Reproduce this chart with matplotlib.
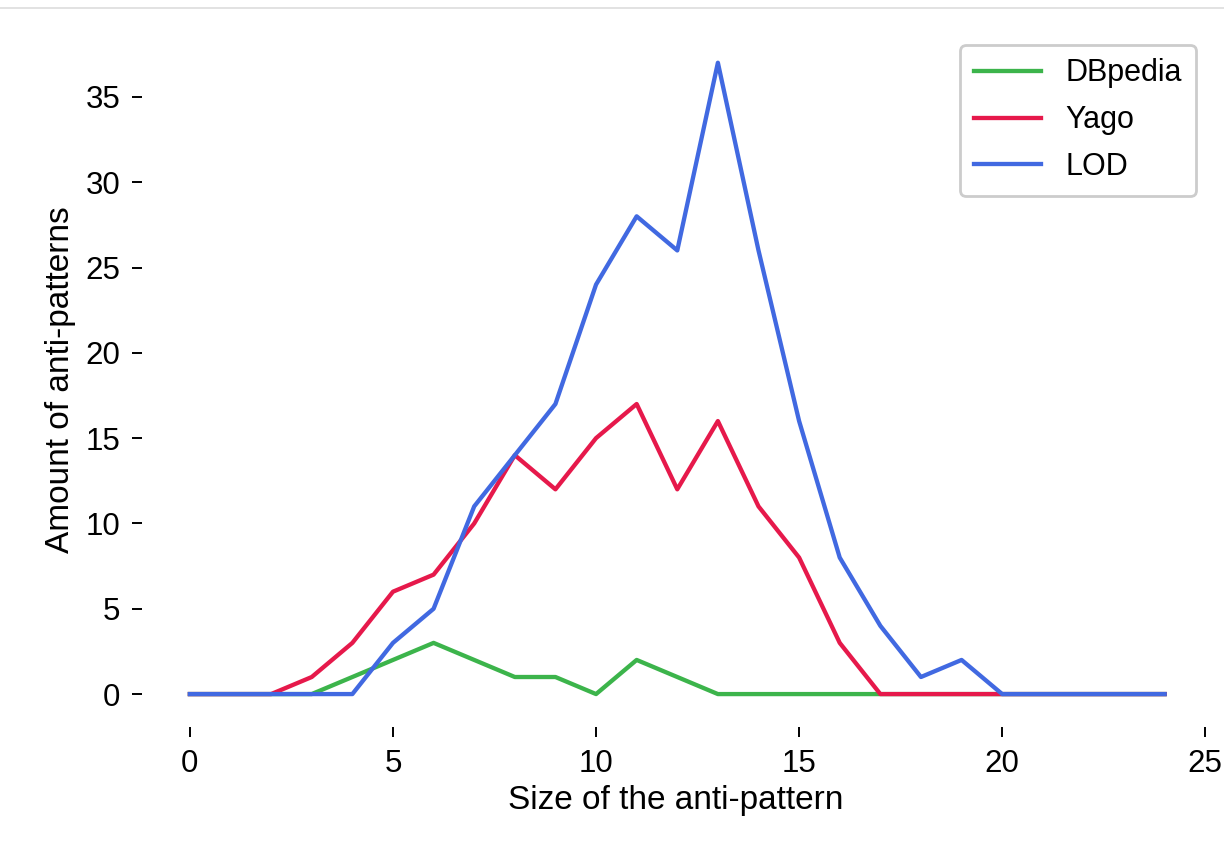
import numpy as np
import matplotlib
matplotlib.use("Agg")
import matplotlib.pyplot as plt
from matplotlib.lines import Line2D

# anti-pattern size vs. how many were found per dataset
sizes = list(range(0, 25))
dbpedia = [0, 0, 0, 0, 1, 2, 3, 2, 1, 1, 0, 2, 1, 0, 0, 0, 0, 0, 0, 0, 0, 0, 0, 0, 0]
yago = [0, 0, 0, 1, 3, 6, 7, 10, 14, 12, 15, 17, 12, 16, 11, 8, 3, 0, 0, 0, 0, 0, 0, 0, 0]
lod = [0, 0, 0, 0, 0, 3, 5, 11, 14, 17, 24, 28, 26, 37, 26, 16, 8, 4, 1, 2, 0, 0, 0, 0, 0]

x_ticks = [0, 5, 10, 15, 20, 25]
y_ticks = [0, 5, 10, 15, 20, 25, 30, 35]

plt.rcParams["font.family"] = ["Liberation Sans", "DejaVu Sans"]

fig = plt.figure(figsize=(12.24, 8.43), dpi=100)
ax = fig.add_axes([0.116, 0.1376, 0.872, 0.8244])

ax.plot(sizes, dbpedia, color="#3cb44b", lw=3.1, label="DBpedia")
ax.plot(sizes, yago, color="#e6194b", lw=3.1, label="Yago")
ax.plot(sizes, lod, color="#4169e1", lw=3.1, label="LOD")

ax.set_xlim(-1.18, 25.1)
ax.set_ylim(-1.93, 38.8)
ax.set_xticks(x_ticks)
ax.set_yticks(y_ticks)
for s in ax.spines.values():
    s.set_visible(False)
ax.tick_params(direction="out", length=7.5, width=1.4, labelsize=22.5, pad=8)

ax.set_xlabel("Size of the anti-pattern", fontsize=24, labelpad=5)
ax.set_ylabel("Amount of anti-patterns", fontsize=24, labelpad=7)

leg = ax.legend(loc="upper right", bbox_to_anchor=(0.977, 0.947),
                bbox_transform=fig.transFigure, fontsize=22,
                handlelength=2.2, handletextpad=0.8, borderpad=0.45,
                labelspacing=0.55, borderaxespad=0, fancybox=True,
                framealpha=1)
leg.get_frame().set_edgecolor("#cccccc")
leg.get_frame().set_linewidth(2)

# thin grey line along the top edge, as in the screenshot
fig.add_artist(Line2D([0, 1], [0.991, 0.991], color="#dddddd", lw=1.2,
                      transform=fig.transFigure))

fig.savefig("out.png", dpi=100)
